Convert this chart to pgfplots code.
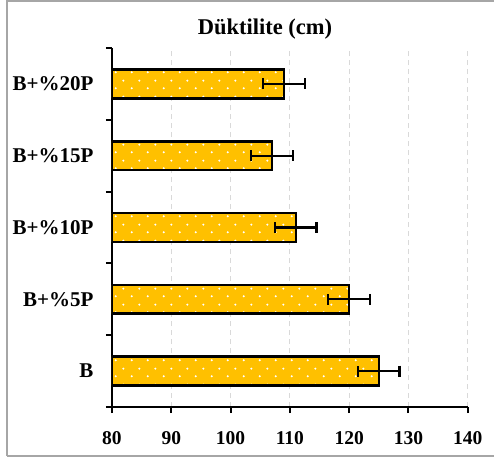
\documentclass[border=0pt]{standalone}
\usepackage{pgfplots}
\pgfplotsset{compat=1.18}
\usepackage{fontspec}
\setmainfont{Liberation Serif}
\usetikzlibrary{patterns.meta}
\definecolor{baryellow}{HTML}{FFC000}
\tikzdeclarepattern{
  name=mydots,
  type=uncolored,
  bounding box={(0pt,0pt) and (16pt,16pt)},
  tile size={(16pt,16pt)},
  code={
    \pgfpathcircle{\pgfpoint{4pt}{4pt}}{1.2pt}
    \pgfpathcircle{\pgfpoint{12pt}{12pt}}{1.2pt}
    \pgfusepath{fill}
  }
}
\begin{document}
\begin{tikzpicture}
\useasboundingbox (-112pt,-52pt) rectangle (382pt,407pt);
\draw[gray!70, line width=1.5pt] (-105pt,-49pt) -- (-105pt,406pt) -- (382pt,406pt);
\draw[gray!70, line width=1.5pt] (-105pt,-49pt) -- (382pt,-49pt);
\node[font=\fontsize{22.5}{26}\selectfont\bfseries] at (153pt,378pt) {Düktilite (cm)};
\begin{axis}[
  at={(0pt,0pt)}, anchor=south west,
  scale only axis,
  width=355.7pt, height=359pt,
  xbar,
  bar width=0.4,
  xmin=80, xmax=140,
  ymin=-0.5, ymax=4.5,
  xtick={80,90,...,140},
  ytick={0,1,2,3,4},
  yticklabels={B, B+\%5P, B+\%10P, B+\%15P, B+\%20P},
  axis x line*=bottom,
  axis y line*=left,
  axis line style={-, line width=2pt, black},
  tick align=outside,
  major tick length=6pt,
  xtick style={draw=black, line width=2pt},
  ytick style={draw=none},
  extra y ticks={-0.5,0.5,1.5,2.5,3.5,4.5},
  extra y tick labels={},
  extra y tick style={ytick style={draw=black, line width=2pt}},
  xmajorgrids,
  grid style={dash pattern=on 5pt off 4pt, gray!30, line width=1pt},
  /pgf/number format/assume math mode=true,
  xticklabel style={font=\fontsize{19.5}{22}\selectfont\bfseries, yshift=-15pt},
  yticklabel style={font=\fontsize{21}{24}\selectfont\bfseries, xshift=-9pt},
]
\addplot[
  fill=baryellow, draw=black, line width=2.5pt,
  postaction={pattern=mydots, pattern color=white},
  error bars/.cd, x dir=both, x explicit,
  error bar style={line width=2.2pt, black},
  error mark options={rotate=90, mark size=5.5pt, line width=2.2pt, black},
] coordinates {
  (125,0) +- (3.5,0)
  (120,1) +- (3.5,0)
  (111,2) +- (3.5,0)
  (107,3) +- (3.5,0)
  (109,4) +- (3.5,0)
};
\end{axis}
\end{tikzpicture}
\end{document}
